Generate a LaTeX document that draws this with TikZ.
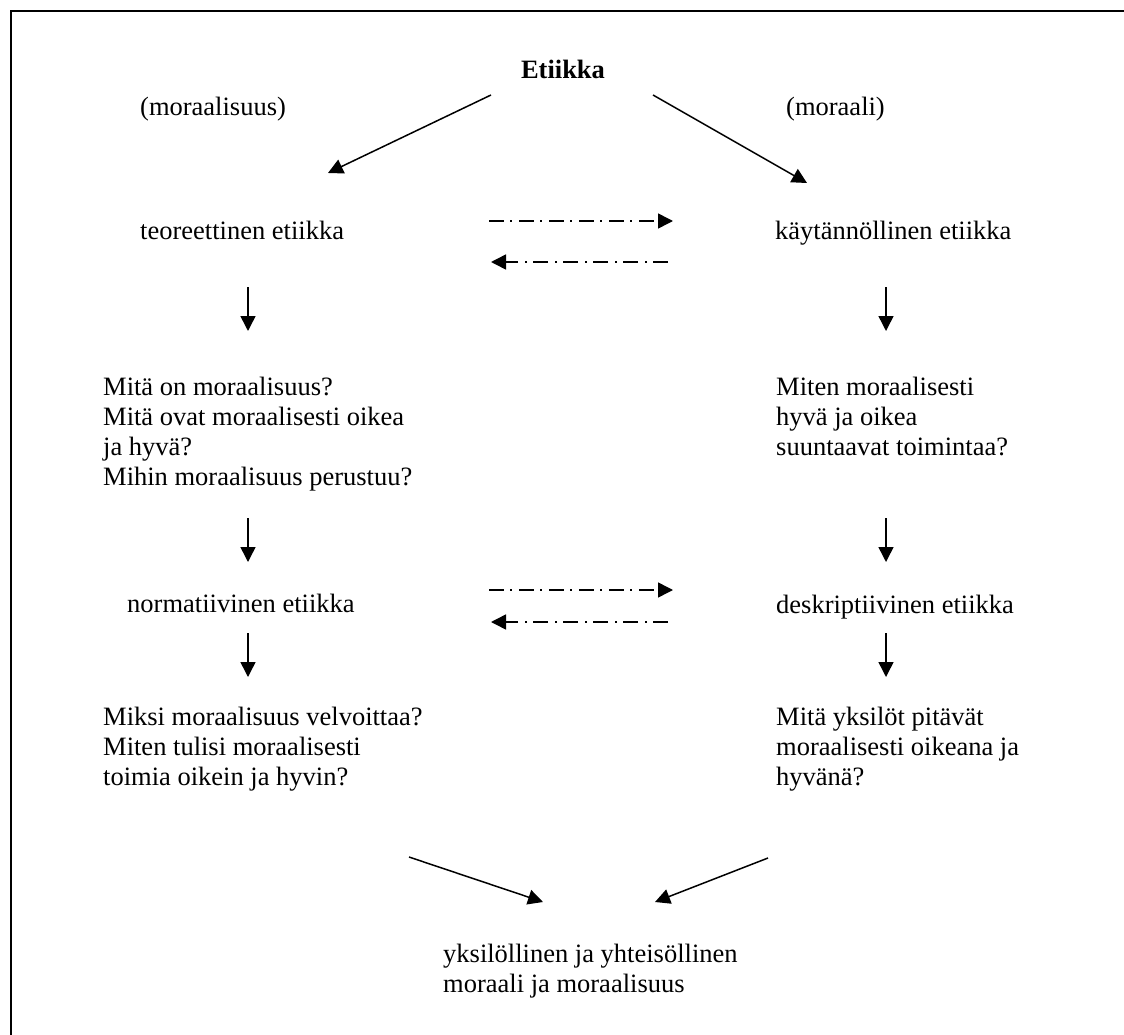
\documentclass[tikz,border=0pt]{standalone}
\usepackage{fontspec}
\setmainfont{Liberation Serif}
\usetikzlibrary{arrows.meta}
\begin{document}
\begin{tikzpicture}[x=1pt,y=-1pt,
  txt/.style={inner sep=0pt, anchor=base west, align=left, font=\fontsize{26.5}{30}\selectfont},
  conn/.style={line width=1.5pt, -{Triangle[length=15pt,width=15pt]}},
  dd/.style={conn, dash pattern=on 15pt off 6pt on 2pt off 7pt}]
\useasboundingbox (0,0) rectangle (1124,1035);
\draw[line width=2pt] (11,11) rectangle (1150,1060);

% texts (multi-line nodes are placed by the baseline of their last line)
\node[txt, anchor=base] (et) at (563,79) {\textbf{Etiikka}};
\node[txt] (ms) at (140,116) {(moraalisuus)};
\node[txt] (mo) at (786,116) {(moraali)};
\node[txt] (te) at (140,239) {teoreettinen etiikka};
\node[txt] (ka) at (775,239) {käytännöllinen etiikka};
\node[txt] (q1) at (103,485) {Mitä on moraalisuus?\\Mitä ovat moraalisesti oikea\\ja hyvä?\\Mihin moraalisuus perustuu?};
\node[txt] (q2) at (776,455) {Miten moraalisesti\\hyvä ja oikea\\suuntaavat toimintaa?};
\node[txt] (ne) at (127,612) {normatiivinen etiikka};
\node[txt] (de) at (776,613) {deskriptiivinen etiikka};
\node[txt] (q3) at (103,785) {Miksi moraalisuus velvoittaa?\\Miten tulisi moraalisesti\\toimia oikein ja hyvin?};
\node[txt] (q4) at (776,785) {Mitä yksilöt pitävät\\moraalisesti oikeana ja\\hyvänä?};
\node[txt] (yk) at (443,992) {yksilöllinen ja yhteisöllinen\\moraali ja moraalisuus};

% connector ends
\coordinate (a1s) at (491,95);  \coordinate (a1e) at (328,173);
\coordinate (a2s) at (653,95);  \coordinate (a2e) at (807,183);
\coordinate (d1s) at (489,221); \coordinate (d1e) at (673,221);
\coordinate (d2s) at (668,262); \coordinate (d2e) at (491,262);
\coordinate (l1s) at (248,287); \coordinate (l1e) at (248,331);
\coordinate (r1s) at (886,287); \coordinate (r1e) at (886,331);
\coordinate (l2s) at (248,518); \coordinate (l2e) at (248,562);
\coordinate (r2s) at (886,518); \coordinate (r2e) at (886,562);
\coordinate (d3s) at (489,590); \coordinate (d3e) at (673,590);
\coordinate (d4s) at (668,622); \coordinate (d4e) at (491,622);
\coordinate (l3s) at (248,633); \coordinate (l3e) at (248,677);
\coordinate (r3s) at (886,633); \coordinate (r3e) at (886,677);
\coordinate (b1s) at (409,857); \coordinate (b1e) at (543,902);
\coordinate (b2s) at (768,858); \coordinate (b2e) at (655,902);

\draw[conn] (a1s) -- (a1e);
\draw[conn] (a2s) -- (a2e);
\draw[dd] (d1s) -- (d1e);
\draw[dd] (d2s) -- (d2e);
\draw[conn] (l1s) -- (l1e);
\draw[conn] (r1s) -- (r1e);
\draw[conn] (l2s) -- (l2e);
\draw[conn] (r2s) -- (r2e);
\draw[dd] (d3s) -- (d3e);
\draw[dd] (d4s) -- (d4e);
\draw[conn] (l3s) -- (l3e);
\draw[conn] (r3s) -- (r3e);
\draw[conn] (b1s) -- (b1e);
\draw[conn] (b2s) -- (b2e);
\end{tikzpicture}
\end{document}
